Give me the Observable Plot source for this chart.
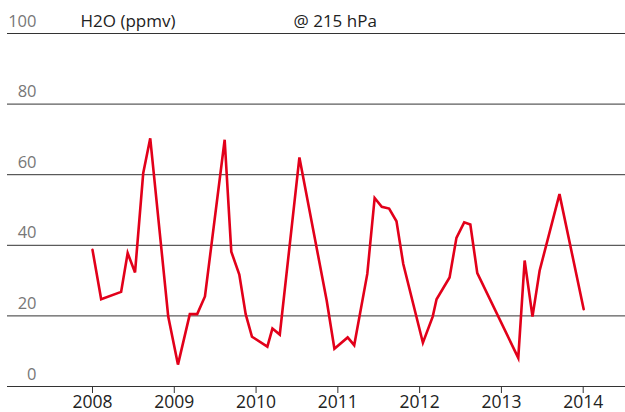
<!DOCTYPE html>
<html>
<head>
<meta charset="utf-8">
<script src="https://cdn.jsdelivr.net/npm/d3@7"></script>
<script src="https://cdn.jsdelivr.net/npm/@observablehq/plot@0.6"></script>
<style>
  html, body { margin: 0; padding: 0; background: #fff; }
  #chart svg { display: block; }
</style>
</head>
<body>
<div id="chart"></div>
<script>
// Data
const years = [2008.0, 2008.106, 2008.35, 2008.43, 2008.52, 2008.62, 2008.706, 2008.926, 2009.045, 2009.19,
  2009.28, 2009.375, 2009.616, 2009.697, 2009.795, 2009.873, 2009.95, 2010.138, 2010.2, 2010.29,
  2010.53, 2010.864, 2010.958, 2011.12, 2011.2, 2011.36, 2011.45, 2011.537, 2011.627, 2011.717,
  2011.8, 2012.04, 2012.16, 2012.207, 2012.366, 2012.45, 2012.545, 2012.62, 2012.705, 2013.206,
  2013.284, 2013.38, 2013.467, 2013.71, 2014.006];
const h2o = [38.7, 24.7, 26.8, 37.8, 32.3, 60.4, 70.3, 19.8, 6.2, 20.5,
  20.5, 25.5, 69.9, 38.2, 31.7, 20.5, 14.1, 11.3, 16.4, 14.7,
  64.9, 24.3, 10.7, 13.9, 11.7, 31.9, 53.4, 50.9, 50.4, 46.8,
  34.7, 12.4, 19.8, 24.7, 30.9, 42.1, 46.5, 45.9, 32.1, 8.1,
  35.7, 19.8, 32.8, 54.5, 21.9];
const yTicks = [0, 20, 40, 60, 80, 100];
const xTicks = [2008, 2009, 2010, 2011, 2012, 2013, 2014];
const unitLabel = "H2O (ppmv)";
const levelLabel = "@ 215 hPa";

const data = years.map((t, i) => ({t, v: h2o[i]}));
const font = "'Open Sans', 'Noto Sans', sans-serif";

const chart = Plot.plot({
  width: 625,
  height: 412,
  marginLeft: 7,
  marginRight: 0,
  marginTop: 33,
  marginBottom: 26,
  style: {fontFamily: font, background: "#fff"},
  x: {domain: [2008, 2014], range: [92, 582.7]},
  y: {domain: [0, 100]},
  marks: [
    Plot.ruleY(yTicks, {stroke: "#333", strokeWidth: 1}),
    Plot.text(yTicks, {y: d => d, text: d => String(d), frameAnchor: "left", dx: 29,
      textAnchor: "end", lineAnchor: "bottom", dy: -7, fill: "#777", fontSize: 16.5}),
    Plot.text([unitLabel], {y: () => 100, text: d => d, frameAnchor: "left", dx: 73,
      textAnchor: "start", lineAnchor: "bottom", dy: -7, fill: "#222", fontSize: 17}),
    Plot.text([levelLabel], {y: () => 100, text: d => d, frameAnchor: "left", dx: 286,
      textAnchor: "start", lineAnchor: "bottom", dy: -7, fill: "#222", fontSize: 17}),
    Plot.axisX({ticks: xTicks, tickFormat: "d", tickSize: 7, tickPadding: 2,
      stroke: "#333", fill: "#222", fontSize: 17.5, label: null}),
    Plot.axisY({ticks: [], label: null}),
    Plot.line(data, {x: "t", y: "v", stroke: "#e2001a", strokeWidth: 2.6,
      strokeLinejoin: "miter", strokeMiterlimit: 4})
  ]
});
document.getElementById("chart").appendChild(chart);
</script>
</body>
</html>
